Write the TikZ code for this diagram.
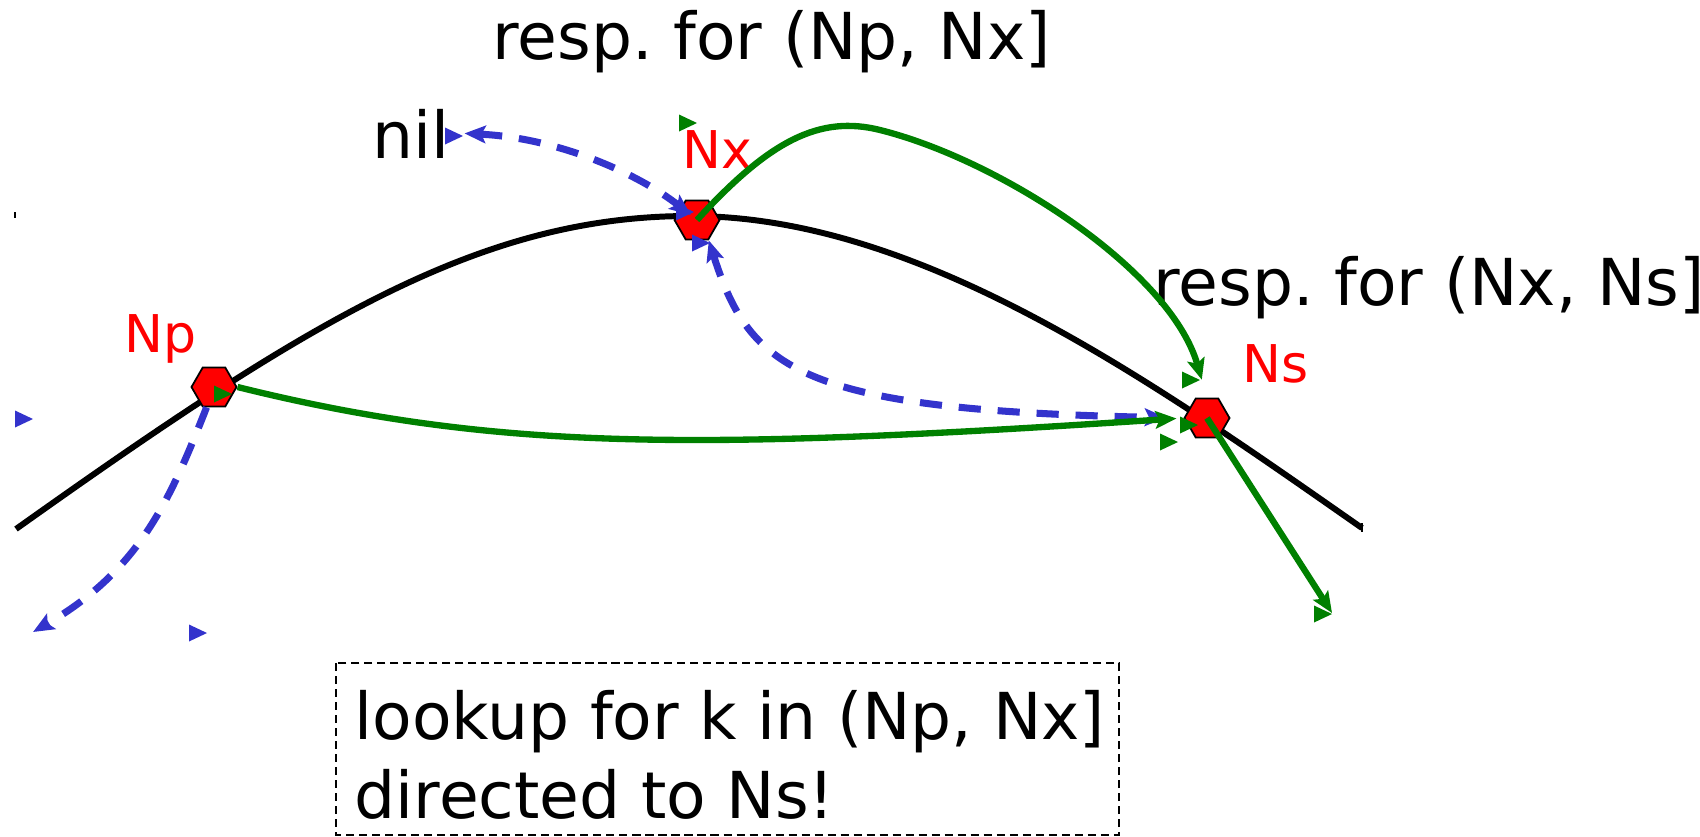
\documentclass[tikz,border=0pt]{standalone}
\usepackage{fontspec}
\setmainfont{DejaVu Sans}
\usepackage{xcolor}
\usetikzlibrary{arrows.meta,shapes.geometric}

\definecolor{figred}{RGB}{255,0,0}
\definecolor{figgreen}{RGB}{0,128,0}
\definecolor{figblue}{RGB}{51,51,204}

% loose arrow heads of the drawing
\newcommand{\straytip}[2]{\fill[#1] (#2) -- ++(-18,-8.5) -- ++(0,17) -- cycle;}

\begin{document}
\begin{tikzpicture}[x=0.01cm, y=-0.01cm, >={Stealth[length=6pt,width=5pt,inset=1.2pt]},
  hexnode/.style={regular polygon, regular polygon sides=6, minimum size=0.45cm,
    inner sep=0pt, fill=figred, draw=black, line width=0.5pt},
  redlabel/.style={text=figred, font=\fontsize{14.8}{17}\selectfont, inner sep=0pt, anchor=base west},
  bigtext/.style={font=\fontsize{18.4}{22.4}\selectfont, inner sep=0pt, anchor=base west},
  ring/.style={line width=1.7pt},
  gline/.style={draw=figgreen, line width=1.8pt, ->},
  bline/.style={draw=figblue, line width=2pt, dash pattern=on 6.3pt off 4.8pt},
  notebox/.style={line width=0.6pt, dash pattern=on 2.3pt off 1.4pt}]

  \clip (0,0) rectangle (1700,836);

  % Define coordinates for the ring and free ends
  \coordinate (ringL) at (16,529);
  \coordinate (ringR) at (1362,528);
  \coordinate (leftEnd) at (33,632);
  \coordinate (rightEnd) at (1332,613);

  % the ring
  \draw[ring] (ringL) .. controls (310,320) and (480,216) .. (690,216)
    .. controls (920,216) and (1150,380) .. (ringR);
  \draw[line width=0.4pt] (15,212) -- (15,218);
  \draw[line width=0.4pt] (1362,523) -- (1362,532);

  % Define nodes
  \node[hexnode] (Np) at (214,387) {};
  \node[hexnode] (Nx) at (697,220) {};
  \node[hexnode] (Ns) at (1207,418) {};
  \node[redlabel] (NpLab) at (124,352) {Np};
  \node[redlabel] (NxLab) at (682,168) {Nx};
  \node[redlabel] (NsLab) at (1242,382) {Ns};
  \node[bigtext] (respA) at (492,59) {resp.\ for (Np, Nx]};
  \node[bigtext] (respB) at (1153,305) {resp.\ for (Nx, Ns]};
  \node[bigtext, inner sep=4pt] (nil) at (358,158) {nil};
  \node[bigtext, anchor=north west, align=left] (lookup) at (354,690)
    {lookup for k in (Np, Nx]\\directed to Ns!};
  \draw[notebox] (336,663) rectangle (1119,835);

  % Draw arrows between nodes
  \draw[bline, <->, shorten >=2.3pt] (nil.east) .. controls (560,138) and (640,175) .. (Nx.center);
  \draw[bline, <->, shorten >=5pt] (Nx.-60) .. controls (750,370) and (800,410) .. (Ns.west);
  \draw[bline, ->] (Np.-110) .. controls (170,500) and (140,570) .. (leftEnd);
  \draw[gline, shorten >=2pt] (Np.east) .. controls (500,452) and (700,450) .. (Ns.west);
  \draw[gline, shorten >=5.3pt] (Nx.center) .. controls (770,140) and (820,115) .. (880,130)
    .. controls (1000,160) and (1170,270) .. (Ns.north);
  \draw[gline] (Ns.center) -- (rightEnd);

  \straytip{figblue}{33,419}
  \straytip{figblue}{207,633}
  \straytip{figblue}{463,136}
  \straytip{figblue}{694,212}
  \straytip{figblue}{710,243}
  \straytip{figgreen}{697,123}
  \straytip{figgreen}{232,394}
  \straytip{figgreen}{1200,380}
  \straytip{figgreen}{1178,442}
  \straytip{figgreen}{1198,425}
  \straytip{figgreen}{1332,614}
\end{tikzpicture}
\end{document}
